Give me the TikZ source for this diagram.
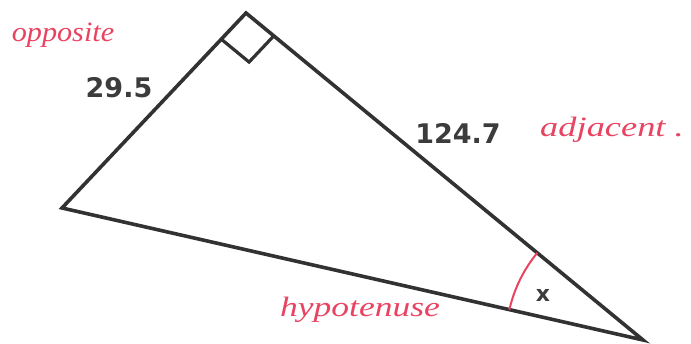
\documentclass[tikz,border=0pt]{standalone}
\usepackage{fontspec}
\setmainfont{DejaVu Sans}
\newfontfamily\handfont{Liberation Serif}
\usetikzlibrary{calc}
\definecolor{edgegray}{RGB}{50,50,50}
\definecolor{labgray}{RGB}{60,60,60}
\definecolor{penred}{RGB}{232,68,98}
\begin{document}
\begin{tikzpicture}[x=1pt,y=1pt,
  side/.style={draw=edgegray,line width=3.6pt,line join=miter},
  numlab/.style={text=labgray,font=\bfseries\fontsize{27}{29}\selectfont,inner sep=0pt},
  hand/.style={text=penred,font=\handfont\itshape\fontsize{28}{30}\selectfont,inner sep=0pt},
  anglemark/.style={draw=penred,line width=2pt}]
\useasboundingbox (0,0) rectangle (691,344);
\coordinate (A) at (62,136);
\coordinate (B) at (246,331);
\coordinate (C) at (643,4);
\draw[side] (A) -- (B) -- (C) -- cycle;
\coordinate (R1) at ($(B)!36pt!(A)$);
\coordinate (R3) at ($(B)!36pt!(C)$);
\coordinate (R2) at ($(R1)+(R3)-(B)$);
\draw[side,line width=3.2pt] (R1) -- (R2) -- (R3);
\coordinate (S) at ($(C)!137pt!(A)$);
\draw[anglemark] (S) arc[start angle=167.2,end angle=140.5,radius=137pt];
\node[numlab] (opp) at (119,256) {29.5};
\node[numlab] (adj) at (458,211) {124.7};
\node[numlab,font=\bfseries\fontsize{22}{24}\selectfont] (ang) at (543,49) {x};
\node[hand,xscale=1.08] (tOpp) at (63,309) {opposite};
\node[hand,xscale=1.3] (tAdj) at (612,214) {adjacent .};
\node[hand,xscale=1.27] (tHyp) at (360,34) {hypotenuse};
\end{tikzpicture}
\end{document}
